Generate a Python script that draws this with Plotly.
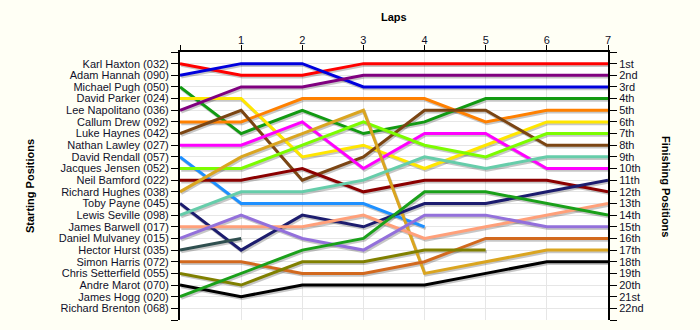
import plotly.graph_objects as go

laps = [0, 1, 2, 3, 4, 5, 6, 7]
lap_labels = ["", "1", "2", "3", "4", "5", "6", "7"]

drivers = [
    "Karl Haxton (032)", "Adam Hannah (090)", "Michael Pugh (050)", "David Parker (024)",
    "Lee Napolitano (036)", "Callum Drew (092)", "Luke Haynes (042)", "Nathan Lawley (027)",
    "David Rendall (057)", "Jacques Jensen (052)", "Neil Bamford (022)", "Richard Hughes (038)",
    "Toby Payne (045)", "Lewis Seville (098)", "James Barwell (017)", "Daniel Mulvaney (015)",
    "Hector Hurst (035)", "Simon Harris (072)", "Chris Setterfield (055)", "Andre Marot (070)",
    "James Hogg (020)", "Richard Brenton (068)",
]

finish_labels = ["1st", "2nd", "3rd", "4th", "5th", "6th", "7th", "8th", "9th", "10th", "11th",
                 "12th", "13th", "14th", "15th", "16th", "17th", "18th", "19th", "20th", "21st", "22nd"]

colors = [
    "#FF0000", "#0000DD", "#129A12", "#FFE600", "#800080", "#FF8000", "#7B4513", "#FF00FF",
    "#1E90FF", "#7CFC00", "#8B0000", "#DAA520", "#1C1C6E", "#66CDAA", "#FFA07A", "#9370DB",
    "#2F4F4F", "#D2691E", "#808000", "#000000", "#1AA01A", "#888888",
]

# positions per lap (lap 0 .. lap 7); None = not running
pos_haxton = [1, 2, 2, 1, 1, 1, 1, 1]
pos_hannah = [2, 1, 1, 3, 3, 3, 3, 3]
pos_pugh = [3, 7, 5, 7, 6, 4, 4, 4]
pos_parker = [4, 4, 9, 8, 10, 8, 6, 6]
pos_napolitano = [5, 3, 3, 2, 2, 2, 2, 2]
pos_drew = [6, 6, 4, 4, 4, 6, 5, 5]
pos_haynes = [7, 5, 11, 9, 5, 5, 8, 8]
pos_lawley = [8, 8, 6, 10, 7, 7, 10, 10]
pos_rendall = [9, 13, 13, 13, 15, None, None, None]
pos_jensen = [10, 10, 8, 6, 8, 9, 7, 7]
pos_bamford = [11, 11, 10, 12, 11, 11, 11, 12]
pos_hughes = [12, 9, 7, 5, 19, 18, 17, 17]
pos_payne = [13, 17, 14, 15, 13, 13, 12, 11]
pos_seville = [14, 12, 12, 11, 9, 10, 9, 9]
pos_barwell = [15, 15, 15, 14, 16, 15, 14, 13]
pos_mulvaney = [16, 14, 16, 17, 14, 14, 15, 15]
pos_hurst = [17, 16, None, None, None, None, None, None]
pos_harris = [18, 18, 19, 19, 18, 16, 16, 16]
pos_setterfield = [19, 20, 18, 18, 17, 17, None, None]
pos_marot = [20, 21, 20, 20, 20, 19, 18, 18]
pos_hogg = [21, 19, 17, 16, 12, 12, 13, 14]
pos_brenton = [None, None, None, None, None, None, None, None]

all_positions = [
    pos_haxton, pos_hannah, pos_pugh, pos_parker, pos_napolitano, pos_drew, pos_haynes,
    pos_lawley, pos_rendall, pos_jensen, pos_bamford, pos_hughes, pos_payne, pos_seville,
    pos_barwell, pos_mulvaney, pos_hurst, pos_harris, pos_setterfield, pos_marot, pos_hogg,
    pos_brenton,
]

FONT = "Liberation Sans, Arial, sans-serif"
TXT = "#10102a"

fig = go.Figure()

# shadows
for name, pos in zip(drivers, all_positions):
    if all(p is None for p in pos):
        continue
    fig.add_trace(go.Scatter(
        x=[l + 0.02 for l in laps], y=[None if p is None else p + 0.15 for p in pos],
        mode="lines", line=dict(color="rgba(0,0,0,0.22)", width=3),
        hoverinfo="skip", showlegend=False, connectgaps=False))

for name, pos, col in zip(drivers, all_positions, colors):
    if all(p is None for p in pos):
        continue
    fig.add_trace(go.Scatter(
        x=laps, y=pos, mode="lines", name=name,
        line=dict(color=col, width=3), showlegend=False, connectgaps=False))

# dummy trace for right axis
fig.add_trace(go.Scatter(x=[0], y=[1], yaxis="y2", mode="markers",
                         marker=dict(opacity=0), hoverinfo="skip", showlegend=False))

pl, pr, pt, pb = 180, 92, 52, 10
pw, ph = 700 - pl - pr, 330 - pt - pb

yvals = list(range(0, 24))
fig.update_layout(
    width=700, height=330,
    margin=dict(l=pl, r=pr, t=pt, b=pb),
    paper_bgcolor="#FFFFF5",
    plot_bgcolor="#FFFFFF",
    font=dict(family=FONT, size=11, color=TXT),
    xaxis=dict(
        side="top", range=[0, 7], tickvals=laps, ticktext=lap_labels,
        ticks="outside", ticklen=5, tickcolor="black", tickwidth=1,
        ticklabelstandoff=-3,
        showline=True, linecolor="black", linewidth=2,
        showgrid=True, gridcolor="#E6E6E6", gridwidth=1, zeroline=False,
        tickfont=dict(family=FONT, size=11, color=TXT),
    ),
    yaxis=dict(
        range=[23, 0], tickvals=yvals, ticktext=[""] + drivers + [""],
        ticks="outside", ticklen=7, tickcolor="black", tickwidth=1,
        showline=True, linecolor="black", linewidth=2,
        showgrid=True, gridcolor="#E6E6E6", gridwidth=1, zeroline=False,
        tickfont=dict(family=FONT, size=11, color=TXT),
    ),
    yaxis2=dict(
        overlaying="y", side="right", range=[23, 0], tickvals=yvals,
        ticktext=[""] + finish_labels + [""],
        ticks="outside", ticklen=7, tickcolor="black", tickwidth=1,
        showline=True, linecolor="black", linewidth=2,
        showgrid=False, zeroline=False,
        tickfont=dict(family=FONT, size=11, color=TXT),
    ),
    annotations=[
        dict(text="<b>Laps</b>", x=(394 - pl) / pw, y=1 + (pt - 17) / ph,
             xref="paper", yref="paper", xanchor="center", yanchor="middle",
             showarrow=False, font=dict(family=FONT, size=11, color="black")),
        dict(text="<b>Starting Positions</b>", x=(30 - pl) / pw, y=1 - (186 - pt) / ph,
             xref="paper", yref="paper", xanchor="center", yanchor="middle",
             textangle=-90, showarrow=False, font=dict(family=FONT, size=11, color="black")),
        dict(text="<b>Finishing Positions</b>", x=(666 - pl) / pw, y=1 - (186 - pt) / ph,
             xref="paper", yref="paper", xanchor="center", yanchor="middle",
             textangle=90, showarrow=False, font=dict(family=FONT, size=11, color="black")),
    ],
)

fig.write_html("out.html")
